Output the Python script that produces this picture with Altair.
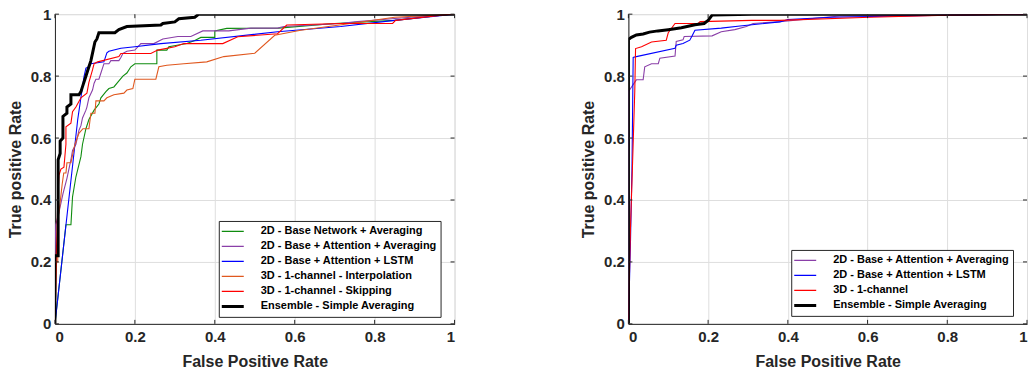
import altair as alt
import pandas as pd

# ---------------- data ----------------
LEFT_SERIES = [
    "2D - Base Network + Averaging",
    "2D - Base + Attention + Averaging",
    "2D - Base + Attention + LSTM",
    "3D - 1-channel - Interpolation",
    "3D - 1-channel - Skipping",
    "Ensemble - Simple Averaging",
]
LEFT_COLORS = ["#0f8c0f", "#8a3fa8", "#0000ff", "#e0581f", "#ff0000", "#000000"]

RIGHT_SERIES = [
    "2D - Base + Attention + Averaging",
    "2D - Base + Attention + LSTM",
    "3D - 1-channel",
    "Ensemble - Simple Averaging",
]
RIGHT_COLORS = ["#8a3fa8", "#0000ff", "#ff0000", "#000000"]
ENSEMBLE = "Ensemble - Simple Averaging"

GREEN_L_FPR = [0, 0.0275, 0.04, 0.044, 0.0525, 0.065, 0.069, 0.0775, 0.085, 0.098, 0.11, 0.115, 0.1275, 0.135,
               0.1475, 0.157, 0.17, 0.18, 0.19, 0.20, 0.255, 0.255, 0.28, 0.285, 0.33, 0.35, 0.365, 0.40, 0.40,
               0.43, 0.56, 0.70, 0.85, 0.99, 1]
GREEN_L_TPR = [0, 0.32, 0.32, 0.41, 0.475, 0.54, 0.58, 0.63, 0.66, 0.69, 0.71, 0.73, 0.75, 0.76,
               0.765, 0.78, 0.80, 0.81, 0.83, 0.84, 0.84, 0.884, 0.884, 0.895, 0.905, 0.915, 0.925, 0.925, 0.946,
               0.954, 0.955, 0.97, 0.98, 1.0, 1.0]

PURPLE_L_FPR = [0, 0, 0.002, 0.01, 0.02, 0.03, 0.04, 0.044, 0.0525, 0.06, 0.065, 0.069, 0.0775, 0.08, 0.085,
                0.094, 0.098, 0.1025, 0.11, 0.115, 0.12, 0.1225, 0.135, 0.14, 0.16, 0.165, 0.17, 0.18, 0.20,
                0.215, 0.2475, 0.27, 0.3075, 0.34, 0.37, 0.435, 0.49, 0.557, 0.573, 0.715, 0.75, 0.85, 0.99, 1]
PURPLE_L_TPR = [0, 0.22, 0.32, 0.36, 0.42, 0.47, 0.53, 0.56, 0.58, 0.625, 0.64, 0.665, 0.69, 0.70, 0.73,
                0.755, 0.777, 0.79, 0.79, 0.81, 0.83, 0.84, 0.84, 0.85, 0.85, 0.86, 0.873, 0.88, 0.884,
                0.905, 0.905, 0.92, 0.928, 0.928, 0.946, 0.946, 0.955, 0.955, 0.96, 0.97, 0.975, 0.986, 1.0, 1.0]

BLUE_L_FPR = [0, 0.057, 0.069, 0.073, 0.0775, 0.085, 0.09, 0.1225, 0.13, 0.135, 0.165, 0.2, 0.265, 0.365,
              0.557, 0.715, 0.85, 1]
BLUE_L_TPR = [0, 0.66, 0.766, 0.80, 0.826, 0.83, 0.84, 0.846, 0.875, 0.88, 0.89, 0.895, 0.905, 0.916,
              0.943, 0.96, 0.98, 1]

ORANGE_L_FPR = [0, 0.004, 0.007, 0.007, 0.012, 0.018, 0.022, 0.0275, 0.03, 0.04, 0.05, 0.06, 0.07, 0.085, 0.09,
                0.1, 0.1025, 0.1225, 0.13, 0.1475, 0.1725, 0.18, 0.195, 0.20, 0.2525, 0.26, 0.28, 0.3225, 0.38,
                0.4225, 0.50, 0.55, 0.615, 0.74, 0.85, 1]
ORANGE_L_TPR = [0, 0.2, 0.2, 0.33, 0.38, 0.45, 0.487, 0.487, 0.52, 0.52, 0.58, 0.615, 0.63, 0.63, 0.68,
                0.68, 0.72, 0.72, 0.73, 0.74, 0.745, 0.755, 0.76, 0.79, 0.79, 0.83, 0.835, 0.84, 0.846,
                0.863, 0.874, 0.932, 0.948, 0.97, 0.99, 1]

RED_L_FPR = [0, 0.004, 0.007, 0.01, 0.015, 0.0225, 0.0275, 0.0275, 0.04, 0.044, 0.0525, 0.065, 0.08, 0.085,
             0.094, 0.098, 0.107, 0.16, 0.165, 0.24, 0.257, 0.30, 0.3225, 0.42, 0.4575, 0.557, 0.58, 0.715,
             0.845, 0.8525, 0.99, 1]
RED_L_TPR = [0, 0.25, 0.39, 0.48, 0.50, 0.506, 0.58, 0.636, 0.648, 0.685, 0.70, 0.73, 0.745, 0.78,
             0.82, 0.84, 0.846, 0.863, 0.873, 0.873, 0.884, 0.895, 0.905, 0.905, 0.927, 0.937, 0.965, 0.97,
             0.97, 0.98, 1.0, 1]

BLACK_L_FPR = [0, 0, 0.008, 0.008, 0.013, 0.013, 0.02, 0.02, 0.03, 0.03, 0.04, 0.04, 0.06, 0.065, 0.07, 0.075,
               0.08, 0.085, 0.09, 0.095, 0.10, 0.105, 0.11, 0.15, 0.16, 0.18, 0.265, 0.27, 0.30, 0.31, 0.35,
               0.36, 1]
BLACK_L_TPR = [0, 0.22, 0.22, 0.53, 0.55, 0.59, 0.60, 0.67, 0.68, 0.70, 0.71, 0.74, 0.74, 0.75, 0.77, 0.79,
               0.81, 0.83, 0.85, 0.88, 0.91, 0.92, 0.94, 0.94, 0.95, 0.96, 0.965, 0.97, 0.975, 0.985, 0.99,
               1.0, 1]

PURPLE_R_FPR = [0, 0, 0.02, 0.037, 0.041, 0.058, 0.075, 0.079, 0.117, 0.12, 0.137, 0.14, 0.21, 0.233, 0.267,
                0.296, 0.313, 0.38, 0.53, 0.84, 1]
PURPLE_R_TPR = [0, 0.75, 0.788, 0.788, 0.83, 0.84, 0.84, 0.858, 0.865, 0.912, 0.917, 0.928, 0.93, 0.943, 0.95,
                0.96, 0.97, 0.976, 0.994, 0.997, 1]

BLUE_R_FPR = [0, 0.005, 0.009, 0.012, 0.02, 0.117, 0.12, 0.137, 0.154, 0.16, 0.167, 0.233, 0.28, 0.38, 0.40,
              0.51, 0.8, 1]
BLUE_R_TPR = [0, 0.25, 0.5, 0.86, 0.863, 0.89, 0.90, 0.905, 0.916, 0.93, 0.948, 0.955, 0.962, 0.975, 0.983,
              0.99, 0.997, 1]

RED_R_FPR = [0, 0.005, 0.01, 0.016, 0.018, 0.033, 0.058, 0.095, 0.1, 0.117, 0.175, 0.18, 0.31, 0.38, 0.606,
             0.80, 0.967, 1]
RED_R_TPR = [0, 0.3, 0.5, 0.75, 0.889, 0.895, 0.91, 0.916, 0.94, 0.97, 0.97, 0.976, 0.98, 0.98, 0.99,
             0.997, 1.0, 1]

BLACK_R_FPR = [0, 0, 0.0075, 0.02, 0.037, 0.053, 0.074, 0.1, 0.133, 0.167, 0.19, 0.2, 0.21, 0.31, 1]
BLACK_R_TPR = [0, 0.918, 0.925, 0.933, 0.936, 0.942, 0.946, 0.95, 0.956, 0.966, 0.97, 0.98, 0.997, 1.0, 1]

TICKS = [0, 0.2, 0.4, 0.6, 0.8, 1]
X_TITLE = "False Positive Rate"
Y_TITLE = "True positive Rate"

FONT = "Liberation Sans"
AXIS_COLOR = "#262626"
HEIGHT = 310
TICK_LEN = 4


def build(series, fprs, tprs):
    rows = []
    for s, xs, ys in zip(series, fprs, tprs):
        for i, (x, y) in enumerate(zip(xs, ys)):
            rows.append({"series": s, "fpr": x, "tpr": y, "i": i})
    return pd.DataFrame(rows)


left_df = build(LEFT_SERIES,
                [GREEN_L_FPR, PURPLE_L_FPR, BLUE_L_FPR, ORANGE_L_FPR, RED_L_FPR, BLACK_L_FPR],
                [GREEN_L_TPR, PURPLE_L_TPR, BLUE_L_TPR, ORANGE_L_TPR, RED_L_TPR, BLACK_L_TPR])
right_df = build(RIGHT_SERIES,
                 [PURPLE_R_FPR, BLUE_R_FPR, RED_R_FPR, BLACK_R_FPR],
                 [PURPLE_R_TPR, BLUE_R_TPR, RED_R_TPR, BLACK_R_TPR])
ticks_df = pd.DataFrame({"fpr": TICKS, "tpr": TICKS})

SCALE = alt.Scale(domain=[0, 1], nice=False, zero=False)


def axis(title, title_pad, label_pad):
    return alt.Axis(
        values=TICKS, format="~g", title=title,
        labelFont=FONT, labelFontSize=15, labelFontWeight="bold", labelColor=AXIS_COLOR,
        titleFont=FONT, titleFontSize=16, titleFontWeight="bold", titleColor=AXIS_COLOR,
        grid=True, gridColor="#dedede", gridWidth=1,
        domainColor=AXIS_COLOR, domainWidth=1, tickSize=0,
        labelPadding=label_pad, titlePadding=title_pad,
    )


def legend(lx, ly):
    return alt.Legend(
        title=None, orient="none", legendX=lx, legendY=ly,
        symbolType="stroke", symbolSize=1089, clipHeight=15, rowPadding=0,
        symbolStrokeWidth=alt.ExprRef(f"datum.value == '{ENSEMBLE}' ? 3 : 1.3"),
        labelOffset=28, labelFont=FONT, labelFontSize=11, labelFontWeight="bold",
        labelExpr="datum.label + '\u00a0\u00a0'",
        labelColor="black", labelLimit=400, strokeColor=AXIS_COLOR, fillColor="white",
        padding=3, cornerRadius=0, symbolOpacity=1,
    )


def inner_ticks(width):
    base = alt.Chart(ticks_df).mark_rule(color=AXIS_COLOR, strokeWidth=1)
    xs = alt.X("fpr:Q", scale=SCALE)
    ys = alt.Y("tpr:Q", scale=SCALE)
    bottom = base.encode(x=xs, y=alt.value(HEIGHT), y2=alt.value(HEIGHT - TICK_LEN))
    top = base.encode(x=xs, y=alt.value(0), y2=alt.value(TICK_LEN))
    left = base.encode(y=ys, x=alt.value(0), x2=alt.value(TICK_LEN))
    right = base.encode(y=ys, x=alt.value(width), x2=alt.value(width - TICK_LEN))
    return [bottom, top, left, right]


def panel(df, series, colors, width, lx, ly):
    x = alt.X("fpr:Q", scale=SCALE, axis=axis(X_TITLE, 9, 6))
    y = alt.Y("tpr:Q", scale=SCALE, axis=axis(Y_TITLE, 7, 4))
    color = alt.Color("series:N", scale=alt.Scale(domain=series, range=colors), legend=legend(lx, ly))
    base = alt.Chart(df).encode(x=x, y=y, color=color, order=alt.Order("i:Q"))
    thin = base.transform_filter(alt.datum.series != ENSEMBLE).mark_line(clip=True, strokeWidth=1.1)
    thick = base.transform_filter(alt.datum.series == ENSEMBLE).mark_line(clip=True, strokeWidth=3)
    return alt.layer(thin, thick, *inner_ticks(width)).properties(width=width, height=HEIGHT)


left = panel(left_df, LEFT_SERIES, LEFT_COLORS, 400, 164, 207)
right = panel(right_df, RIGHT_SERIES, RIGHT_COLORS, 399, 163, 236)

chart = alt.hconcat(left, right, spacing=124).resolve_scale(
    color="independent"
).resolve_legend(color="independent").properties(
    padding={"left": 6, "top": 6, "right": 0, "bottom": 0}
).configure_view(
    stroke=AXIS_COLOR, strokeWidth=1
).configure(background="white")

chart.save("out.html", embed_options={"renderer": "svg", "actions": False})
